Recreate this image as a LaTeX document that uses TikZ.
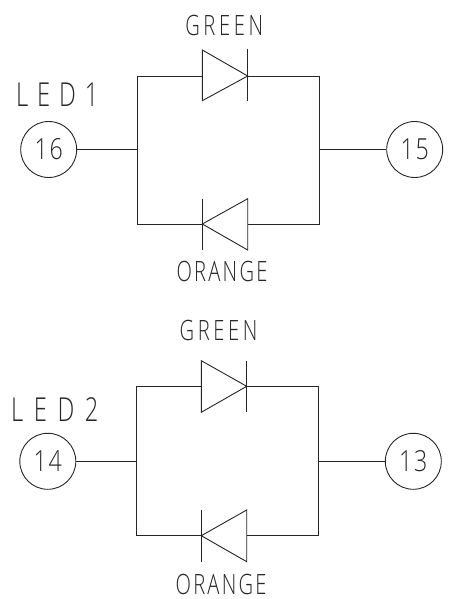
\documentclass[tikz,border=0pt]{standalone}
\usepackage{fontspec}
\setmainfont{Open Sans Light}
\newfontfamily\lblfont[FakeStretch=0.72,LetterSpace=8]{Open Sans Light}
\newfontfamily\grnfont[FakeStretch=0.72,LetterSpace=13]{Open Sans Light}
\newfontfamily\ledfont[FakeStretch=0.72,LetterSpace=27]{Open Sans Light}
\newfontfamily\ledbfont[FakeStretch=0.72,LetterSpace=32]{Open Sans Light}
\newfontfamily\numfont[FakeStretch=0.8,LetterSpace=6]{Open Sans Light}
\tikzset{
  wire/.style={draw=black!85,line width=0.9pt,line join=miter},
  pin/.style={circle,draw=black!85,line width=0.9pt,minimum size=56pt,inner sep=0pt,text=black!85,font=\numfont\fontsize{29}{29}\selectfont},
  lbl/.style={inner sep=0pt,text=black!85,font=\lblfont\fontsize{28}{28}\selectfont},
  grn/.style={inner sep=0pt,text=black!85,font=\grnfont\fontsize{28}{28}\selectfont},
  led/.style={inner sep=0pt,text=black!85,font=\ledfont\fontsize{33}{33}\selectfont},
  ledb/.style={inner sep=0pt,text=black!85,font=\ledbfont\fontsize{33}{33}\selectfont}
}
\begin{document}
\begin{tikzpicture}[x=1pt,y=-1pt]
\useasboundingbox (0,0) rectangle (453,599);
% LED1
\node[led] (t1) at (57.2,94.3) {LED1};
\node[grn] (g1) at (224.2,25.7) {GREEN};
\node[lbl] (o1) at (222,271.7) {ORANGE};
\node[pin] (p16) at (48.7,149.5) {16};
\node[pin] (p15) at (414.7,149.5) {15};
\coordinate (lj1) at (137.5,149.5);
\coordinate (rj1) at (319.7,149.5);
\coordinate (lt1) at (137.5,76);
\coordinate (rt1) at (319.7,76);
\coordinate (lb1) at (137.5,224);
\coordinate (rb1) at (319.7,224);
\coordinate (da1) at (202.3,76);
\coordinate (dk1) at (247.7,76);
\coordinate (ea1) at (247.7,224);
\coordinate (ek1) at (202.3,224);
\draw[wire] (p16) -- (lj1);
\draw[wire] (p15) -- (rj1);
\draw[wire] (da1) -- (lt1) -- (lb1) -- (ek1);
\draw[wire] (dk1) -- (rt1) -- (rb1) -- (ea1);
\draw[wire] (202.3,50) -- (247.7,76) -- (202.3,100.7) -- cycle;
\draw[wire] (247.7,49) -- (247.7,101);
\draw[wire] (247.7,198.7) -- (202.3,224) -- (247.7,250) -- cycle;
\draw[wire] (202.3,198.7) -- (202.3,250);
% LED2
\node[ledb] (t2) at (54.8,410) {LED2};
\node[grn] (g2) at (218.5,330) {GREEN};
\node[lbl] (o2) at (221.1,584) {ORANGE};
\node[pin] (p14) at (47.8,461.3) {14};
\node[pin] (p13) at (413.3,461.3) {13};
\coordinate (lj2) at (136.7,461.3);
\coordinate (rj2) at (318.7,461.3);
\coordinate (lt2) at (136.7,386.3);
\coordinate (rt2) at (318.7,386.3);
\coordinate (lb2) at (136.7,535.7);
\coordinate (rb2) at (318.7,535.7);
\coordinate (da2) at (201.3,386.3);
\coordinate (dk2) at (246.7,386.3);
\coordinate (ea2) at (246.7,535.7);
\coordinate (ek2) at (201.3,535.7);
\draw[wire] (p14) -- (lj2);
\draw[wire] (p13) -- (rj2);
\draw[wire] (da2) -- (lt2) -- (lb2) -- (ek2);
\draw[wire] (dk2) -- (rt2) -- (rb2) -- (ea2);
\draw[wire] (201.3,360.7) -- (246.7,386.3) -- (201.3,412.3) -- cycle;
\draw[wire] (246.7,360.7) -- (246.7,412.3);
\draw[wire] (246.7,510) -- (201.3,535.7) -- (246.7,561.7) -- cycle;
\draw[wire] (201.3,510) -- (201.3,561.7);
\end{tikzpicture}
\end{document}
